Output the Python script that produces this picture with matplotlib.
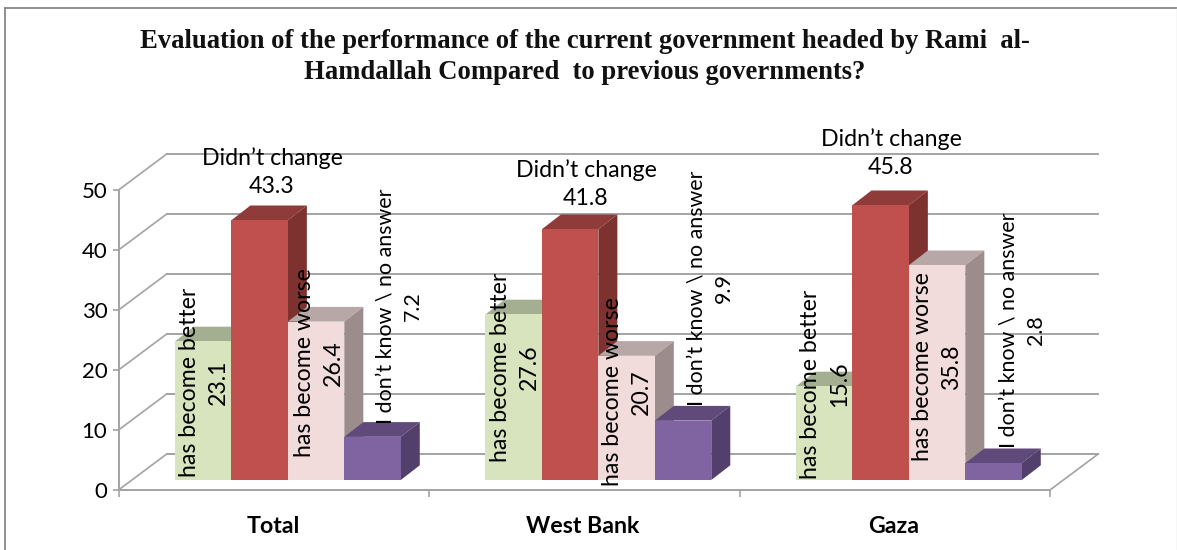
import matplotlib
matplotlib.use("Agg")
import matplotlib.pyplot as plt
from matplotlib.patches import Polygon
from matplotlib.lines import Line2D

regions = ["Total", "West Bank", "Gaza"]
series_names = ["has become better", "Didn\u2019t change", "has become worse", "I don\u2019t know \\ no answer"]
better = [23.1, 27.6, 15.6]
no_change = [43.3, 41.8, 45.8]
worse = [26.4, 20.7, 35.8]
dont_know = [7.2, 9.9, 2.8]
y_ticks = [0, 10, 20, 30, 40, 50]
title = ("Evaluation of the performance of the current government headed by Rami  al-\n"
         "Hamdallah Compared  to previous governments?")

W, H = 1177, 550
X0, X1, Y0, Y1 = 118.5, 1050, 490, 190

front = ["#D7E4BD", "#C0504D", "#F2DCDB", "#8064A2"]
tops = ["#A3AF90", "#8E3B39", "#B7A7A6", "#604A7B"]
sides = ["#8F9A7E", "#7E3230", "#9C8D8C", "#533F6B"]
label_sizes = [16.7, 16.7, 16.7, 15.4]
GRID = "#A3A3A3"
FONT = "Lato"

fig = plt.figure(figsize=(W / 100, H / 100), dpi=100, facecolor="white")
ax = fig.add_axes([X0 / W, 1 - Y0 / H, (X1 - X0) / W, (Y0 - Y1) / H])
ax.set_xlim(0, 3)
ax.set_ylim(0, 50)
ax.patch.set_visible(False)

def px(x, y):
    return (x - X0) / (X1 - X0) * 3, (Y0 - y) / (Y0 - Y1) * 50

# projection of the depth of the box and of the bars, in data units
wall_dx, wall_dy = px(166.7, 490)[0], 6.0
bar_dx, bar_dy = px(137.5, 490)[0], 2.45
lift = px(0, 480)[1]
bar_w = 1 / 5.5

# walls and floor
for v in y_ticks:
    ax.plot([0, wall_dx], [v, v + wall_dy], color=GRID, lw=1.2, clip_on=False, zorder=1)
    ax.plot([wall_dx, 3 + wall_dx], [v + wall_dy, v + wall_dy], color=GRID, lw=1.4, clip_on=False, zorder=1)
ax.plot([3, 3 + wall_dx], [0, wall_dy], color=GRID, lw=1.2, clip_on=False, zorder=1)

# bars
all_series = [better, no_change, worse, dont_know]
for g in range(len(regions)):
    for s, vals in enumerate(all_series):
        x = g + bar_w * (1 + s)
        v = vals[g]
        t = lift + v
        ax.bar(x, v, width=bar_w, bottom=lift, align="edge", color=front[s], lw=0, zorder=4 + 2 * s + 10 * g)
        ax.add_patch(Polygon([(x, t), (x + bar_dx, t + bar_dy), (x + bar_w + bar_dx, t + bar_dy), (x + bar_w, t)],
                             closed=True, fc=tops[s], ec="none", clip_on=False, zorder=3 + 2 * s + 10 * g))
        ax.add_patch(Polygon([(x + bar_w, lift), (x + bar_w + bar_dx, lift + bar_dy),
                              (x + bar_w + bar_dx, t + bar_dy), (x + bar_w, t)],
                             closed=True, fc=sides[s], ec="none", clip_on=False, zorder=3 + 2 * s + 10 * g))

# axes furniture
for sp in ("top", "right"):
    ax.spines[sp].set_visible(False)
for sp in ("left", "bottom"):
    ax.spines[sp].set_color(GRID)
    ax.spines[sp].set_linewidth(1.4)
    ax.spines[sp].set_zorder(50)
ax.set_yticks(y_ticks)
ax.set_yticklabels([str(v) for v in y_ticks], fontsize=16, family=FONT)
ax.tick_params(axis="y", length=4, width=1.2, color=GRID, pad=4)
ax.set_xticks([0, 1, 2, 3])
ax.set_xticklabels([])
ax.tick_params(axis="x", length=5, width=1.2, color=GRID)
ax.set_xticks([0.497, 1.495, 2.497], minor=True)
ax.set_xticklabels(regions, minor=True, fontsize=16.7, fontweight="bold", family=FONT)
ax.tick_params(axis="x", which="minor", length=0, pad=19)

# data labels, centred at these picture positions
label_pos = {
    0: [(204, 382), (272, 172), (319, 363), (399, 306)],
    1: [(515, 367), (586, 184), (627, 392), (710, 288)],
    2: [(825, 384), (891, 153), (937, 367), (1022, 330)],
}
for g in label_pos:
    for s, vals in enumerate(all_series):
        x, y = px(*label_pos[g][s])
        ax.text(x, y, f"{series_names[s]}\n{vals[g]}", rotation=0 if s == 1 else 90,
                ha="center", va="center", multialignment="center", rotation_mode="default",
                fontsize=label_sizes[s], family=FONT, color="black", linespacing=1.45, zorder=60, clip_on=False)

fig.text(585 / W, 1 - 57 / H, title, ha="center", va="center", multialignment="center",
         fontsize=19.2, fontweight="bold", family="Liberation Serif", color="#111111", linespacing=1.3)

# chart frame
fig.add_artist(Line2D([4.7 / W, 4.7 / W], [0, 1 - 7.7 / H], color="#868686", lw=1.3))
fig.add_artist(Line2D([4.7 / W, 1176.5 / W], [1 - 7.7 / H, 1 - 7.7 / H], color="#868686", lw=1.3))
fig.add_artist(Line2D([1176.5 / W, 1176.5 / W], [0, 1 - 7.7 / H], color="#D9D9D9", lw=1))

fig.savefig("out.png", dpi=100)
